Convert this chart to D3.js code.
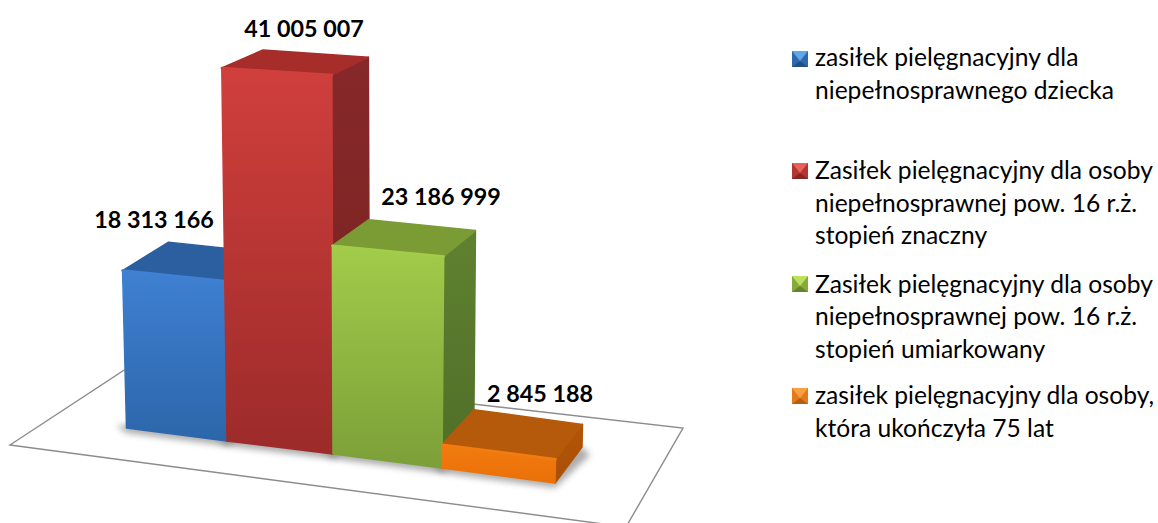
<!DOCTYPE html>
<html><head><meta charset="utf-8">
<script src="https://cdn.jsdelivr.net/npm/d3@7"></script>
<style>html,body{margin:0;padding:0;background:#fff;overflow:hidden}svg{display:block}text{font-family:Lato,sans-serif}</style>
</head><body><div id="c"></div>
<script>
const categories = [
  ["zasiłek pielęgnacyjny dla","niepełnosprawnego dziecka"],
  ["Zasiłek pielęgnacyjny dla osoby","niepełnosprawnej pow. 16 r.ż.","stopień znaczny"],
  ["Zasiłek pielęgnacyjny dla osoby","niepełnosprawnej pow. 16 r.ż.","stopień umiarkowany"],
  ["zasiłek pielęgnacyjny dla osoby,","która ukończyła 75 lat"]
];
const values = [18313166, 41005007, 23186999, 2845188];
const frontTop = ["#3f80d2","#d03f3c","#a2cc4a","#f27c10"];
const frontBottom = ["#2c66aa","#9c2b2a","#7c9f38","#ea6f08"];
const topFace = ["#2c5f9f","#a72d2a","#7b9b34","#b55a0a"];
const sideTop = ["#2a5a94","#87282a","#5f8230","#b35508"];
const sideBottom = ["#234d80","#78221f","#4f6e28","#a94f06"];
const swatchLight = ["#62a6ea","#e8605a","#bde05e","#f9a045"];
const swatchMid = ["#2f69ad","#b33431","#86aa3c","#e47a18"];
const swatchDark = ["#234f86","#862624","#66832e","#b55f12"];
const legendBaselines = [[66,99],[179,212,244],[293,325,358],[404,437]];
const legendSwatchY = [51,163,276,388];
const labelAnchors = [[154,228],[304,37],[441,205],[540,402]];

const W = 1158, H = 523;
const svg = d3.select("#c").append("svg").attr("width",W).attr("height",H);
const defs = svg.append("defs");
defs.append("filter").attr("id","blur").attr("x","-20%").attr("y","-50%").attr("width","140%").attr("height","200%")
  .append("feGaussianBlur").attr("stdDeviation",3);

// oblique camera: slot position along the front base line, depth, height
const slots = d3.range(values.length + 1);
const baseX = d3.scaleLinear().domain(slots).range([126.5,227,333,442,555]);
const baseY = d3.scaleLinear().domain(slots).range([428,441,454,468,483]);
const heightScale = d3.scalePow().exponent(1.05).domain([0,d3.max(values)]).range([0,1]);
const fullHeight = d3.scaleLinear().domain([0,4]).range([367,391]);
const depthX = d3.scaleLinear().domain([0,4]).range([46,27]);
const lean = d3.scaleLinear().domain([0,4]).range([-0.025,0.019]);
function project(u, d, v){
  const h = heightScale(v) * fullHeight(u);
  const x = baseX(u) + h*lean(u) + d*depthX(u);
  const y = baseY(u) - h + d*(-36 + 0.048*h);
  return [x,y];
}
const poly = pts => "M" + pts.map(p=>p.join(",")).join("L") + "Z";

// floor frame
svg.append("path").attr("d", poly([[10,445],[132,365],[683,428],[626,527]]))
  .attr("fill","none").attr("stroke","#8c8c8c").attr("stroke-width",1.4);

const bars = values.map((v,i)=>({v,i}));

// soft shadows on the floor
svg.append("g").selectAll("path").data(bars).join("path")
  .attr("d", b=>{
    const a=project(b.i,0,0), c=project(b.i+1,0,0), e=project(b.i+1,1,0);
    return poly([[a[0]-10,a[1]-2],[a[0],a[1]+5],[c[0],c[1]+5],[e[0]+8,e[1]+8],[e[0],e[1]]]);
  })
  .attr("fill","#777").attr("opacity",.6).attr("filter","url(#blur)");

bars.forEach(b=>{
  const {v,i} = b;
  const gf = defs.append("linearGradient").attr("id","f"+i).attr("x1",0).attr("y1",0).attr("x2",0).attr("y2",1);
  gf.append("stop").attr("offset",0).attr("stop-color",frontTop[i]);
  gf.append("stop").attr("offset",1).attr("stop-color",frontBottom[i]);
  const gs = defs.append("linearGradient").attr("id","s"+i).attr("x1",0).attr("y1",0).attr("x2",0).attr("y2",1);
  gs.append("stop").attr("offset",0).attr("stop-color",sideTop[i]);
  gs.append("stop").attr("offset",1).attr("stop-color",sideBottom[i]);

  const g = svg.append("g").attr("stroke-linejoin","round");
  const p = (u,d,val)=>project(u,d,val);
  const l=i, r=i+1;
  const face = (pts,fill)=> g.append("path").attr("d",poly(pts)).attr("fill",fill).attr("stroke",fill).attr("stroke-width",1.5);
  face([p(r,0,0),p(r,0,v),p(r,1,v),p(r,1,0)],`url(#s${i})`);
  face([p(l,0,v),p(l,1,v),p(r,1,v),p(r,0,v)],topFace[i]);
  face([p(l,0,0),p(l,0,v),p(r,0,v),p(r,0,0)],`url(#f${i})`);
  // bright bevel along the front top edge
  g.append("path").attr("d",d3.line()([p(l,0,v),p(r,0,v)])).attr("stroke",frontTop[i]).attr("stroke-width",2.5)
    .attr("fill","none").attr("stroke-linecap","round");
});

// value labels
const fmt = n => d3.format(",")(n).replace(/,/g," ");
svg.append("g").selectAll("text").data(bars).join("text")
  .attr("x",b=>labelAnchors[b.i][0]).attr("y",b=>labelAnchors[b.i][1])
  .attr("text-anchor","middle").attr("font-size",23.3).attr("font-weight",700).attr("fill","#000")
  .text(b=>fmt(b.v));

// legend
const swatchSize = 16;
const legend = svg.append("g");
categories.forEach((lines,i)=>{
  const x0=792, y0=legendSwatchY[i], s=swatchSize, c=[x0+s/2,y0+s/2+2];
  const tri=(pts,f)=>legend.append("path").attr("d",poly(pts)).attr("fill",f);
  tri([[x0,y0],[x0+s,y0],[x0+s,y0+s],[x0,y0+s]],swatchMid[i]);
  tri([[x0,y0],[x0+s,y0],c],swatchLight[i]);
  tri([[x0,y0+s],[x0+s,y0+s],c],swatchDark[i]);
  lines.forEach((t,j)=>legend.append("text").attr("x",815).attr("y",legendBaselines[i][j])
    .attr("font-size",24.6).attr("fill","#000").text(t));
});
</script></body></html>
